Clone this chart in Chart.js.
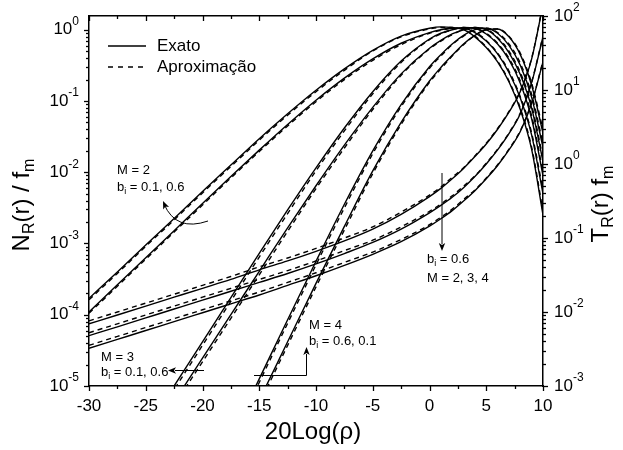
<!DOCTYPE html>
<html>
<head>
<meta charset="utf-8">
<title>Taxa de cruzamento de nível e duração média de desvanecimento</title>
<script src="https://cdn.jsdelivr.net/npm/chart.js"></script>
<style>
  body { margin: 0; background: #fff; }
</style>
</head>
<body>
<canvas id="lcrChart" width="623" height="450"></canvas>
<script>
const xVals = [-30, -27.5, -25, -22.5, -20, -17.5, -15, -12.5, -10, -7.5, -5, -2.5, 0, 1, 2, 3, 4, 5, 6, 7, 8, 9, 10];

// N_R(r)/f_m, log10 values (left axis). "Ap" = aproximação (dashed)
const nrM2a   = [-3.77, -3.40, -3.02, -2.65, -2.27, -1.90, -1.53, -1.18, -0.85, -0.55, -0.29, -0.09, 0.02, 0.04, 0.03, 0.00, -0.10, -0.25, -0.45, -0.73, -1.12, -1.68, -2.60];
const nrM2aAp = [-3.79, -3.42, -3.04, -2.67, -2.29, -1.92, -1.55, -1.20, -0.87, -0.57, -0.30, -0.10, 0.01, 0.03, 0.03, 0.00, -0.09, -0.24, -0.44, -0.72, -1.10, -1.65, -2.55];
const nrM2b   = [-3.96, -3.58, -3.20, -2.82, -2.44, -2.06, -1.69, -1.33, -0.99, -0.68, -0.41, -0.19, -0.04, 0.00, 0.02, 0.02, -0.04, -0.16, -0.34, -0.60, -0.96, -1.48, -2.30];
const nrM2bAp = [-3.98, -3.60, -3.22, -2.84, -2.46, -2.08, -1.71, -1.35, -1.01, -0.70, -0.43, -0.21, -0.05, -0.01, 0.02, 0.02, -0.03, -0.15, -0.33, -0.58, -0.94, -1.45, -2.25];
const nrM3a   = [null, null, -5.62, -5.00, -4.38, -3.76, -3.14, -2.53, -1.94, -1.38, -0.87, -0.44, -0.13, -0.05, 0.00, 0.03, 0.02, -0.06, -0.20, -0.42, -0.75, -1.25, -2.05];
const nrM3aAp = [null, null, -5.67, -5.05, -4.43, -3.81, -3.19, -2.58, -1.98, -1.42, -0.90, -0.46, -0.14, -0.06, 0.00, 0.03, 0.02, -0.05, -0.19, -0.40, -0.72, -1.21, -2.00];
const nrM3b   = [null, null, -5.83, -5.22, -4.61, -4.00, -3.39, -2.78, -2.19, -1.62, -1.09, -0.62, -0.26, -0.15, -0.06, 0.00, 0.03, 0.00, -0.12, -0.32, -0.63, -1.10, -1.85];
const nrM3bAp = [null, null, -5.88, -5.27, -4.66, -4.05, -3.44, -2.83, -2.23, -1.66, -1.12, -0.64, -0.27, -0.16, -0.07, 0.00, 0.03, 0.01, -0.11, -0.30, -0.60, -1.06, -1.80];
const nrM4a   = [null, null, null, null, null, -5.73, -4.90, -4.07, -3.25, -2.45, -1.70, -1.05, -0.52, -0.35, -0.20, -0.08, 0.00, 0.02, -0.05, -0.22, -0.50, -0.95, -1.65];
const nrM4aAp = [null, null, null, null, null, -5.78, -4.95, -4.12, -3.30, -2.50, -1.74, -1.08, -0.54, -0.37, -0.21, -0.09, 0.00, 0.02, -0.04, -0.20, -0.47, -0.91, -1.60];
const nrM4b   = [null, null, null, null, null, -6.00, -5.20, -4.38, -3.56, -2.76, -1.98, -1.30, -0.72, -0.53, -0.36, -0.20, -0.08, 0.00, 0.01, -0.10, -0.35, -0.78, -1.45];
const nrM4bAp = [null, null, null, null, null, -6.05, -5.25, -4.43, -3.61, -2.81, -2.02, -1.33, -0.74, -0.55, -0.37, -0.21, -0.08, 0.00, 0.01, -0.09, -0.33, -0.75, -1.40];

// T_R(r) f_m, log10 values (right axis), b_i = 0.6
const trM2   = [-2.16, -2.04, -1.92, -1.80, -1.68, -1.56, -1.43, -1.31, -1.18, -1.04, -0.88, -0.68, -0.44, -0.33, -0.20, -0.06, 0.10, 0.27, 0.47, 0.70, 0.98, 1.42, 2.15];
const trM2Ap = [-2.12, -2.00, -1.88, -1.76, -1.64, -1.52, -1.39, -1.27, -1.14, -1.00, -0.85, -0.65, -0.42, -0.31, -0.18, -0.05, 0.11, 0.28, 0.48, 0.71, 0.99, 1.43, 2.16];
const trM3   = [-2.32, -2.20, -2.08, -1.96, -1.84, -1.72, -1.60, -1.48, -1.35, -1.21, -1.06, -0.88, -0.66, -0.56, -0.45, -0.32, -0.17, 0.00, 0.19, 0.41, 0.68, 1.10, 1.72];
const trM3Ap = [-2.28, -2.16, -2.04, -1.92, -1.80, -1.68, -1.56, -1.44, -1.31, -1.17, -1.03, -0.85, -0.64, -0.54, -0.43, -0.30, -0.16, 0.01, 0.20, 0.42, 0.69, 1.11, 1.73];
const trM4   = [-2.49, -2.37, -2.25, -2.13, -2.01, -1.89, -1.77, -1.64, -1.51, -1.37, -1.22, -1.05, -0.84, -0.74, -0.63, -0.50, -0.36, -0.20, -0.02, 0.19, 0.44, 0.82, 1.38];
const trM4Ap = [-2.45, -2.33, -2.21, -2.09, -1.97, -1.85, -1.73, -1.60, -1.47, -1.33, -1.19, -1.02, -0.82, -0.72, -0.61, -0.48, -0.35, -0.19, -0.01, 0.20, 0.45, 0.83, 1.39];

// tick labels
const xTickLabels = [-30, -25, -20, -15, -10, -5, 0, 5, 10];
const leftExponents = [-5, -4, -3, -2, -1, 0];
const rightExponents = [-3, -2, -1, 0, 1, 2];

const FONT = '"Liberation Sans", Arial, sans-serif';

function toPoints(logs) {
  return xVals.map((x, i) => ({ x: x, y: logs[i] === null ? null : Math.pow(10, logs[i]) }));
}

function curve(logs, axis, dashed) {
  return {
    data: toPoints(logs),
    yAxisID: axis,
    borderColor: '#000',
    borderWidth: 1.4,
    borderDash: dashed ? [5, 4] : [],
    pointRadius: 0,
    fill: false,
    cubicInterpolationMode: 'monotone'
  };
}

const datasets = [
  curve(nrM2a, 'y'), curve(nrM2b, 'y'), curve(nrM3a, 'y'), curve(nrM3b, 'y'), curve(nrM4a, 'y'), curve(nrM4b, 'y'),
  curve(trM2, 'y2'), curve(trM3, 'y2'), curve(trM4, 'y2'),
  curve(nrM2aAp, 'y', true), curve(nrM2bAp, 'y', true), curve(nrM3aAp, 'y', true), curve(nrM3bAp, 'y', true),
  curve(nrM4aAp, 'y', true), curve(nrM4bAp, 'y', true),
  curve(trM2Ap, 'y2', true), curve(trM3Ap, 'y2', true), curve(trM4Ap, 'y2', true)
];

// text with sub/superscript parts: [text, 'sub' | 'sup' | undefined]
function richText(ctx, parts, x, y, size, align, angle) {
  const small = Math.round(size * 0.68);
  let total = 0;
  const widths = parts.map(p => {
    ctx.font = (p[1] ? small : size) + 'px ' + FONT;
    const w = ctx.measureText(p[0]).width;
    total += w;
    return w;
  });
  ctx.save();
  ctx.translate(x, y);
  if (angle) ctx.rotate(angle);
  let cx = align === 'center' ? -total / 2 : (align === 'right' ? -total : 0);
  ctx.textAlign = 'left';
  ctx.textBaseline = 'middle';
  parts.forEach((p, i) => {
    ctx.font = (p[1] ? small : size) + 'px ' + FONT;
    let dy = 0;
    if (p[1] === 'sub') dy = size * 0.32;
    if (p[1] === 'sup') dy = -size * 0.47;
    ctx.fillText(p[0], cx, dy);
    cx += widths[i];
  });
  ctx.restore();
}

function arrowHead(ctx, tx, ty, ang) {
  const len = 8, half = 3.2;
  ctx.save();
  ctx.translate(tx, ty);
  ctx.rotate(ang);
  ctx.beginPath();
  ctx.moveTo(0, 0);
  ctx.lineTo(-len, -half);
  ctx.lineTo(-len + 2, 0);
  ctx.lineTo(-len, half);
  ctx.closePath();
  ctx.fill();
  ctx.restore();
}

const decorations = {
  id: 'decorations',
  afterDraw(chart) {
    const ctx = chart.ctx;
    const a = chart.chartArea;
    const sx = chart.scales.x, sy = chart.scales.y, sy2 = chart.scales.y2;
    ctx.save();
    ctx.strokeStyle = '#000';
    ctx.fillStyle = '#000';
    ctx.lineWidth = 1.3;
    ctx.setLineDash([]);

    // x ticks (bottom outward, top inward)
    for (let v = -30; v <= 10; v += 2.5) {
      const px = Math.round(sx.getPixelForValue(v)) + 0.5;
      const major = v % 5 === 0;
      const len = major ? 5 : 3;
      ctx.beginPath();
      ctx.moveTo(px, a.bottom); ctx.lineTo(px, a.bottom + len);
      ctx.moveTo(px, a.top); ctx.lineTo(px, a.top + len);
      ctx.stroke();
    }
    // log ticks
    function logTicks(scale, lo, hi, side) {
      for (let d = lo; d <= hi; d++) {
        for (let k = 1; k <= 9; k++) {
          const v = k * Math.pow(10, d);
          if (v < scale.min * 0.999 || v > scale.max * 1.001) continue;
          const py = Math.round(scale.getPixelForValue(v)) + 0.5;
          const len = k === 1 ? 5 : 3;
          ctx.beginPath();
          if (side === 'left') { ctx.moveTo(a.left, py); ctx.lineTo(a.left - len, py); }
          else { ctx.moveTo(a.right, py); ctx.lineTo(a.right + len, py); }
          ctx.stroke();
        }
      }
    }
    logTicks(sy, -5, 0, 'left');
    logTicks(sy2, -3, 2, 'right');

    // tick labels
    ctx.font = '17px ' + FONT;
    ctx.textAlign = 'center';
    ctx.textBaseline = 'middle';
    xTickLabels.forEach(v => {
      ctx.fillText(String(v), sx.getPixelForValue(v), a.bottom + 20);
    });
    leftExponents.forEach(e => {
      richText(ctx, [['10'], [String(e), 'sup']], a.left - 10, sy.getPixelForValue(Math.pow(10, e)), 17, 'right');
    });
    rightExponents.forEach(e => {
      richText(ctx, [['10'], [String(e), 'sup']], a.right + 11, sy2.getPixelForValue(Math.pow(10, e)), 17, 'left');
    });

    // axis titles
    ctx.font = '24px ' + FONT;
    ctx.textAlign = 'center';
    ctx.textBaseline = 'middle';
    ctx.fillText('20Log(\u03C1)', (a.left + a.right) / 2 - 3, 432);
    richText(ctx, [['N'], ['R', 'sub'], ['(r) / f'], ['m', 'sub']], 22, 205, 24, 'center', -Math.PI / 2);
    richText(ctx, [['T'], ['R', 'sub'], ['(r) f'], ['m', 'sub']], 601, 204, 24, 'center', -Math.PI / 2);

    // legend
    ctx.lineWidth = 1.5;
    ctx.beginPath(); ctx.moveTo(108, 46); ctx.lineTo(146, 46); ctx.stroke();
    ctx.setLineDash([5, 5]);
    ctx.beginPath(); ctx.moveTo(108, 67); ctx.lineTo(146, 67); ctx.stroke();
    ctx.setLineDash([]);
    ctx.font = '17px ' + FONT;
    ctx.textAlign = 'left';
    ctx.fillText('Exato', 157, 46);
    ctx.fillText('Aproximação', 157, 67);

    // annotations
    ctx.lineWidth = 1;
    ctx.font = '13px ' + FONT;
    ctx.fillText('M = 2', 117, 170);
    richText(ctx, [['b'], ['i', 'sub'], [' = 0.1, 0.6']], 117, 187, 13, 'left');
    ctx.beginPath(); ctx.moveTo(208, 221); ctx.quadraticCurveTo(176, 232, 164, 204); ctx.stroke();
    arrowHead(ctx, 163, 201, Math.atan2(204 - 232, 164 - 176));

    richText(ctx, [['b'], ['i', 'sub'], [' = 0.6']], 427, 259, 13, 'left');
    ctx.font = '13px ' + FONT;
    ctx.fillText('M = 2, 3, 4', 427, 278);
    ctx.beginPath(); ctx.moveTo(442, 173); ctx.lineTo(442, 244); ctx.stroke();
    arrowHead(ctx, 442, 251, Math.PI / 2);

    ctx.fillText('M = 3', 101, 357);
    richText(ctx, [['b'], ['i', 'sub'], [' = 0.1, 0.6']], 101, 372, 13, 'left');
    ctx.beginPath(); ctx.moveTo(204, 370.5); ctx.lineTo(175, 370.5); ctx.stroke();
    arrowHead(ctx, 168, 370.5, Math.PI);

    ctx.font = '13px ' + FONT;
    ctx.fillText('M = 4', 309, 325);
    richText(ctx, [['b'], ['i', 'sub'], [' = 0.6, 0.1']], 309, 341, 13, 'left');
    ctx.beginPath(); ctx.moveTo(254, 375.5); ctx.lineTo(306.5, 375.5); ctx.lineTo(306.5, 354); ctx.stroke();
    arrowHead(ctx, 306.5, 347, -Math.PI / 2);

    ctx.restore();
  }
};

function fixedSize(prop, val) {
  return function (scale) { scale[prop] = val; };
}

const axisBase = {
  ticks: { display: false },
  grid: { display: false },
  border: { display: true, color: '#000', width: 1.5 }
};

new Chart(document.getElementById('lcrChart').getContext('2d'), {
  type: 'line',
  data: { datasets: datasets },
  plugins: [decorations],
  options: {
    responsive: false,
    devicePixelRatio: 1,
    animation: false,
    layout: { padding: 0 },
    plugins: { legend: { display: false }, tooltip: { enabled: false } },
    scales: {
      x: Object.assign({}, axisBase, { type: 'linear', position: 'bottom', min: -30, max: 10, afterFit: fixedSize('height', 64) }),
      xTop: Object.assign({}, axisBase, { type: 'linear', position: 'top', min: -30, max: 10, afterFit: fixedSize('height', 16) }),
      y: Object.assign({}, axisBase, { type: 'logarithmic', position: 'left', min: 1e-5, max: 1.557, afterFit: fixedSize('width', 89) }),
      y2: Object.assign({}, axisBase, { type: 'logarithmic', position: 'right', min: 1e-3, max: 100, afterFit: fixedSize('width', 80) })
    }
  }
});
</script>
</body>
</html>
